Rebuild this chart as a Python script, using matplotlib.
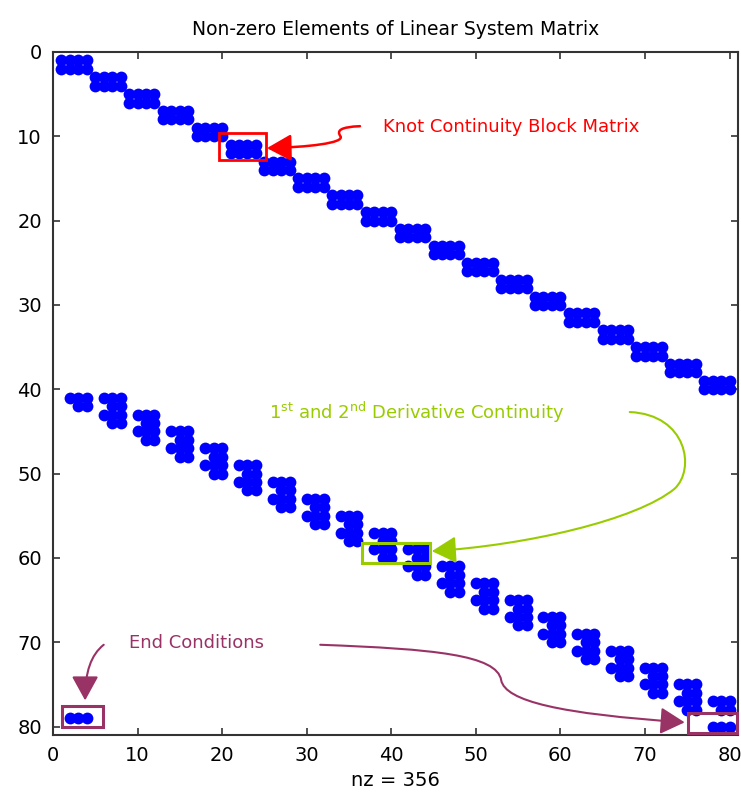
import numpy as np
import matplotlib
matplotlib.use("Agg")
import matplotlib.pyplot as plt
from matplotlib.patches import Rectangle, FancyArrowPatch
from matplotlib.path import Path

# spline system: 20 cubic segments, 4 coefficients each -> 80x80 matrix
n_segments = 20
n_coef = 4
continuity_cols = [0, 1, 2, 3]      # value at both ends of a segment
first_deriv_cols = [1, 2, 3]        # 1st derivative at an interior knot
second_deriv_cols = [2, 3]          # 2nd derivative at an interior knot
end_cols = [1, 2, 3]                # end condition rows

N = n_segments * n_coef
A = np.zeros((N, N))
row = 0
for s in range(n_segments):
    for r in range(2):
        for c in continuity_cols:
            A[row, s * n_coef + c] = 1
        row += 1
for k in range(n_segments - 1):
    for c in first_deriv_cols:
        A[row, k * n_coef + c] = 1
        A[row, (k + 1) * n_coef + c] = -1
    row += 1
    for c in second_deriv_cols:
        A[row, k * n_coef + c] = 1
        A[row, (k + 1) * n_coef + c] = -1
    row += 1
for c in end_cols:
    A[row, c] = 1
    A[row + 1, (n_segments - 1) * n_coef + c] = 1

rows, cols = np.nonzero(A)

RED = "#ff0000"
GREEN = "#99cc00"
PURPLE = "#993366"

fig = plt.figure(figsize=(7.41, 8.06), dpi=100)
ax = fig.add_axes([0.0715, 0.0881, 0.9244, 0.8474])

ax.plot(cols + 1, rows + 1, "o", color="#0000ff", markersize=8.5,
        markeredgewidth=0, linestyle="none")
ax.set_xlim(0, N + 1)
ax.set_ylim(N + 1, 0)
ax.set_xticks(range(0, 81, 10))
ax.set_yticks(range(0, 81, 10))
ax.tick_params(direction="in", top=True, right=True, length=5, width=1.2,
               labelsize=14, color="#333333", pad=8)
for sp in ax.spines.values():
    sp.set_linewidth(1.5)
    sp.set_color("#333333")
ax.set_title("Non-zero Elements of Linear System Matrix", fontsize=13.5, pad=12)
ax.set_xlabel("nz = %d" % len(rows), fontsize=14, labelpad=4)

# highlight boxes
ax.add_patch(Rectangle((19.6, 9.6), 5.6, 3.2, fill=False, ec=RED, lw=2, zorder=5))
ax.add_patch(Rectangle((36.5, 58.2), 8.1, 2.4, fill=False, ec=GREEN, lw=2.2, zorder=5))
ax.add_patch(Rectangle((1.06, 77.6), 4.9, 2.5, fill=False, ec=PURPLE, lw=2.2, zorder=5,
                       clip_on=False))
ax.add_patch(Rectangle((75.1, 78.4), 5.8, 2.4, fill=False, ec=PURPLE, lw=2.2, zorder=5,
                       clip_on=False))

# labels
ax.text(39.0, 8.9, "Knot Continuity Block Matrix", color=RED, fontsize=13,
        va="center", ha="left", zorder=6)
ax.text(25.5, 42.8, "1$^{\\mathregular{st}}$ and 2$^{\\mathregular{nd}}$ Derivative Continuity",
        color=GREEN, fontsize=13, va="center", ha="left", zorder=6,
        bbox=dict(fc="white", ec="none", pad=6))
ax.text(9.0, 70.1, "End Conditions", color=PURPLE, fontsize=13,
        va="center", ha="left", zorder=6,
        bbox=dict(fc="white", ec="none", pad=6))


def curve_arrow(points, color, lw=1.5):
    codes = [Path.MOVETO] + [Path.CURVE4] * (len(points) - 1)
    p = FancyArrowPatch(path=Path(points, codes),
                        arrowstyle="-|>,head_length=1.0,head_width=0.55",
                        color=color, lw=lw, mutation_scale=15, zorder=7)
    ax.add_patch(p)


# arrows
curve_arrow([(36.3, 8.8), (34.0, 8.9), (33.5, 9.3), (34.0, 10.0),
             (34.5, 10.8), (30.0, 11.3), (25.3, 11.4)], RED, lw=1.8)

curve_arrow([(68.2, 42.7), (75.0, 43.0), (76.0, 49.5), (73.5, 51.8),
             (69.0, 55.5), (56.0, 58.5), (44.8, 59.2)], GREEN)

curve_arrow([(6.0, 70.3), (4.5, 71.5), (3.8, 73.5), (3.8, 76.9)], PURPLE)

curve_arrow([(31.6, 70.3), (45.0, 70.8), (52.5, 71.5), (53.0, 74.5),
             (53.5, 77.0), (60.0, 78.5), (74.7, 79.5)], PURPLE)

fig.savefig("out.png", dpi=100)
